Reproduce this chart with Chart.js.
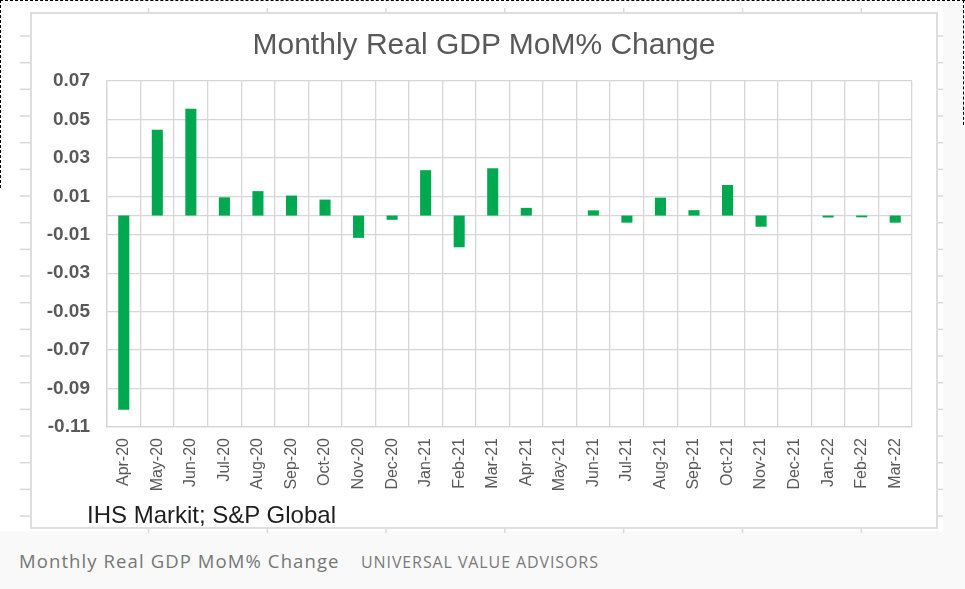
<!DOCTYPE html>
<html>
<head>
<meta charset="utf-8">
<script src="https://cdn.jsdelivr.net/npm/chart.js@4"></script>
<style>
  html, body { margin: 0; padding: 0; }
  body { width: 965px; height: 589px; background: #f9f9f9; position: relative; overflow: hidden; font-family: "Liberation Sans", Arial, sans-serif; }
  #shot { position: absolute; left: 0; top: 0; width: 943px; height: 531px; background: #ffffff; }
  #frame { position: absolute; left: 30px; top: 12px; width: 904px; height: 513px; border: 2px solid #dedede; background: #fff; }
  #deco { position: absolute; left: 0; top: 0; }
  #chartWrap { position: absolute; left: 32px; top: 14px; width: 903px; height: 512px; }
  #title { position: absolute; left: 0; top: 29px; width: 968px; text-align: center; font-size: 30px; line-height: 30px; color: #595959; white-space: nowrap; }
  #source { position: absolute; left: 87px; top: 503px; font-size: 24px; line-height: 24px; color: #1e1e1e; white-space: nowrap; }
  #cap1 { position: absolute; left: 19px; top: 549px; font-family: "Open Sans", sans-serif; font-size: 18.5px; line-height: 24px; letter-spacing: 1.1px; color: #767676; white-space: nowrap; }
  #cap2 { position: absolute; left: 361px; top: 551px; font-family: "Open Sans", sans-serif; font-size: 16px; line-height: 22px; letter-spacing: 0.9px; color: #7a7a7a; white-space: nowrap; }
  .dash { position: absolute; border-color: #000; border-style: dashed; border-width: 0; }
</style>
</head>
<body>
<div id="shot"></div>
<svg id="deco" width="965" height="589"></svg>
<div id="frame"></div>
<div id="chartWrap"><canvas id="c" width="903" height="512"></canvas></div>
<div id="title"></div>
<div id="source">IHS Markit; S&amp;P Global</div>
<div id="cap1">Monthly Real GDP MoM% Change</div>
<div id="cap2">UNIVERSAL VALUE ADVISORS</div>
<div class="dash" style="left:0;top:0;width:965px;height:0;border-top-width:1px;"></div>
<div class="dash" style="left:0;top:0;width:0;height:188px;border-left-width:1px;"></div>
<div class="dash" style="left:963px;top:0;width:0;height:125px;border-left-width:1px;"></div>
<script>
// ---- data ----
const months = ["Apr-20","May-20","Jun-20","Jul-20","Aug-20","Sep-20","Oct-20","Nov-20","Dec-20",
                "Jan-21","Feb-21","Mar-21","Apr-21","May-21","Jun-21","Jul-21","Aug-21","Sep-21",
                "Oct-21","Nov-21","Dec-21","Jan-22","Feb-22","Mar-22"];
const momChange = [-0.101, 0.0446, 0.0556, 0.0095, 0.0127, 0.0104, 0.0083, -0.0116, -0.0022,
                   0.0236, -0.0165, 0.0246, 0.0040, 0, 0.0027, -0.0037, 0.0093, 0.0028,
                   0.0159, -0.0058, 0, -0.0010, -0.0009, -0.0037];
const yMin = -0.11, yMax = 0.07, yStep = 0.02;
const chartTitle = "Monthly Real GDP MoM% Change";
document.getElementById('title').textContent = chartTitle;

// ---- decorative cell-grid ticks around the frame ----
(function(){
  const svg = document.getElementById('deco');
  const ns = 'http://www.w3.org/2000/svg';
  function ln(x1,y1,x2,y2){
    const l = document.createElementNS(ns,'line');
    l.setAttribute('x1',x1);l.setAttribute('y1',y1);l.setAttribute('x2',x2);l.setAttribute('y2',y2);
    l.setAttribute('stroke','#d8d8d8');l.setAttribute('stroke-width','1.5');
    svg.appendChild(l);
  }
  for (let y = 36; y < 528; y += 26.67) { ln(20, y, 30, y); ln(937, y, 943, y); }
  for (let x = 148.5; x < 937; x += 118.8) { ln(x, 8, x, 12); ln(x, 528, x, 533); }
})();

const GRID = '#d6d6d6';
const zeroLine = {
  id: 'zeroLine',
  beforeDatasetsDraw(chart) {
    const y = chart.scales.y.getPixelForValue(0);
    const a = chart.chartArea, ctx = chart.ctx;
    ctx.save();
    ctx.strokeStyle = GRID; ctx.lineWidth = 1.3;
    ctx.beginPath(); ctx.moveTo(a.left, y); ctx.lineTo(a.right, y); ctx.stroke();
    ctx.restore();
  }
};

new Chart(document.getElementById('c'), {
  type: 'bar',
  data: {
    labels: months,
    datasets: [{
      data: momChange,
      backgroundColor: '#00a84f',
      borderWidth: 0,
      barPercentage: 0.33,
      categoryPercentage: 1.0
    }]
  },
  options: {
    responsive: false,
    animation: false,
    devicePixelRatio: 1,
    layout: { padding: { left: 0, right: 23, top: 67, bottom: 0 } },
    plugins: {
      legend: { display: false },
      tooltip: { enabled: false },
      title: { display: false }
    },
    scales: {
      x: {
        grid: { color: GRID, lineWidth: 1.3, drawTicks: false, offset: true },
        border: { color: GRID, width: 1.3 },
        ticks: {
          color: '#595959', autoSkip: false, minRotation: 90, maxRotation: 90, padding: 11,
          font: { family: '"Liberation Sans", Arial, sans-serif', size: 16 }
        },
        afterFit(scale) { scale.height = 99; }
      },
      y: {
        min: yMin, max: yMax,
        grid: { color: GRID, lineWidth: 1.3, drawTicks: false },
        border: { color: GRID, width: 1.3 },
        ticks: {
          stepSize: yStep, padding: 17, color: '#595959',
          font: { family: '"Liberation Sans", Arial, sans-serif', size: 19, weight: 'bold' },
          callback: v => Number(v).toFixed(2)
        },
        afterFit(scale) { scale.width = 75; }
      }
    }
  },
  plugins: [zeroLine]
});
</script>
</body>
</html>
